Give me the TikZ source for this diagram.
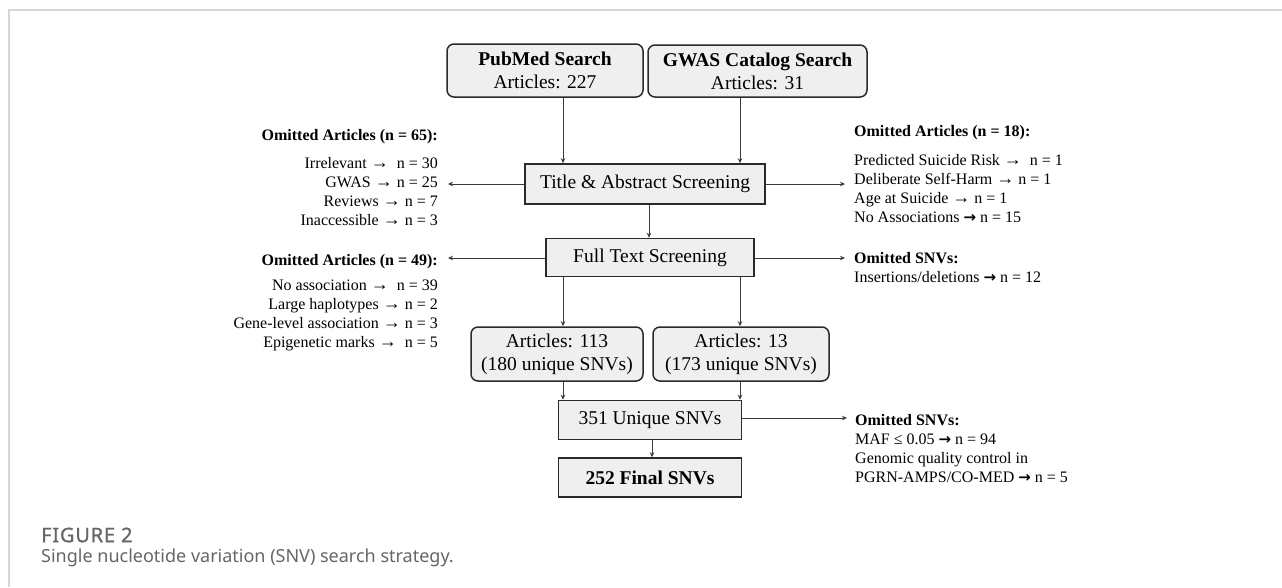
\documentclass[tikz,border=0pt]{standalone}
\usepackage{fontspec}
\setmainfont{Liberation Serif}
\newfontfamily\capfont{Noto Sans}
\newfontfamily\capboldfont{Noto Sans}[FakeBold=1.0, LetterSpace=4]
\newfontfamily\arrowfont{DejaVu Sans}
\usetikzlibrary{arrows.meta}
\definecolor{boxfill}{HTML}{EFEFEF}
\definecolor{boxline}{HTML}{2A2A2A}
\definecolor{arrline}{HTML}{3A3A3A}
\definecolor{framegray}{HTML}{D6D6D6}
\definecolor{capgray}{HTML}{666666}
\newcommand\harr{{\arrowfont\bfseries\fontsize{15}{15}\selectfont →}}
\newcommand\narr{{\fontsize{18}{18}\selectfont →}}
\begin{document}
\begin{tikzpicture}[x=1pt,y=-1pt,
  box/.style={draw=boxline, fill=boxfill, line width=1.5pt, inner sep=0pt, font=\fontsize{19.5}{23}\selectfont, align=center},
  rbox/.style={box, rounded corners=7pt},
  arr/.style={draw=arrline, line width=0.9pt, -{Stealth[length=5pt,width=4.5pt]}},
  side/.style={inner sep=0pt, font=\fontsize{16}{19}\selectfont},
  sidehead/.style={inner sep=0pt, font=\fontsize{16}{19}\selectfont\bfseries},
]
\useasboundingbox (0,0) rectangle (1282,587);
\fill[white] (0,0) rectangle (1282,587);
\draw[framegray, line width=1.5pt] (9,587) -- (9,10) -- (1282,10);

% boxes
\node[rbox, minimum width=196pt, minimum height=53pt] (pub) at (545,70.5) {\textbf{PubMed Search}\\Articles: 227};
\node[rbox, minimum width=219pt, minimum height=52pt] (gwas) at (757.5,71) {\textbf{GWAS Catalog Search}\\Articles: 31};
\node[box, minimum width=240pt, minimum height=40pt] (title) at (645,184) {Title \& Abstract Screening};
\node[box, minimum width=208pt, minimum height=38pt] (full) at (650,257.5) {Full Text Screening};
\node[rbox, minimum width=172pt, minimum height=54pt] (a113) at (557,354) {Articles: 113\\(180 unique SNVs)};
\node[rbox, minimum width=176pt, minimum height=54pt] (a13) at (741,354) {Articles: 13\\(173 unique SNVs)};
\node[box, minimum width=183pt, minimum height=39pt] (u351) at (650,420) {351 Unique SNVs};
\node[box, minimum width=183pt, minimum height=39pt] (f252) at (650,477.5) {\textbf{252 Final SNVs}};

% column coordinates
\coordinate (cl) at (563,0);
\coordinate (cr) at (740,0);
\coordinate (cm) at (649,0);
\coordinate (cb) at (652,0);
\coordinate (tl1) at (448,184);
\coordinate (tr1) at (845,184);
\coordinate (tl2) at (448,258);
\coordinate (tr2) at (845,258);
\coordinate (tr3) at (847,418);

% connectors
\draw[arr] (pub.south -| cl) -- (title.north -| cl);
\draw[arr] (gwas.south -| cr) -- (title.north -| cr);
\draw[arr] (title.south -| cm) -- (full.north -| cm);
\draw[arr] (title.west) -- (tl1);
\draw[arr] (title.east) -- (tr1);
\draw[arr] (full.west |- tl2) -- (tl2);
\draw[arr] (full.east |- tr2) -- (tr2);
\draw[arr] (full.south -| cl) -- (a113.north -| cl);
\draw[arr] (full.south -| cr) -- (a13.north -| cr);
\draw[arr] (a113.south -| cl) -- (u351.north -| cl);
\draw[arr] (a13.south -| cr) -- (u351.north -| cr);
\draw[arr] (u351.south -| cb) -- (f252.north -| cb);
\draw[arr] (u351.east |- tr3) -- (tr3);

% left texts
\node[sidehead, anchor=east] (h65) at (438,137) {Omitted Articles (n = 65):};
\node[side, anchor=east, align=right] (l65) at (438,191.5) {Irrelevant \narr\ \ n = 30\\GWAS \narr\ n = 25\\Reviews \narr\ n = 7\\Inaccessible \narr\ n = 3};
\node[sidehead, anchor=east] (h49) at (438,262) {Omitted Articles (n = 49):};
\node[side, anchor=east, align=right] (l49) at (438,315) {No association \narr\ \ n = 39\\Large haplotypes \narr\ n = 2\\Gene-level association \narr\ n = 3\\Epigenetic marks \narr\ \ n = 5};

% right texts
\node[sidehead, anchor=west] (h18) at (854,133) {Omitted Articles (n = 18):};
\node[side, anchor=west, align=left] (l18) at (854,188.5) {Predicted Suicide Risk \narr\ \ n = 1\\Deliberate Self-Harm \narr\ n = 1\\Age at Suicide \narr\ n = 1\\No Associations \harr\ n = 15};
\node[side, anchor=west, align=left] (r12) at (854,268) {\textbf{Omitted SNVs:}\\Insertions/deletions \harr\ n = 12};
\node[side, anchor=west, align=left] (r94) at (855,449) {\textbf{Omitted SNVs:}\\MAF ≤ 0.05 \harr\ n = 94\\Genomic quality control in\\PGRN-AMPS/CO-MED \harr\ n = 5};

% caption
\node[anchor=west, inner sep=0pt, text=capgray, font=\capboldfont\fontsize{20}{22}\selectfont] (figlab) at (41,535) {FIGURE 2};
\node[anchor=west, inner sep=0pt, text=capgray, font=\capfont\fontsize{18}{20}\selectfont] (figcap) at (41,558) {Single nucleotide variation (SNV) search strategy.};
\end{tikzpicture}
\end{document}
